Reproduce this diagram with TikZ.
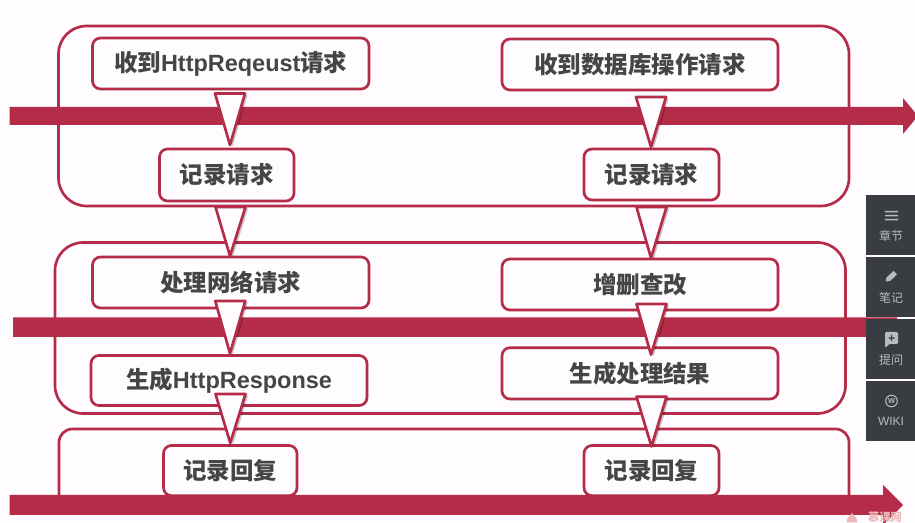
\documentclass[tikz,border=0pt]{standalone}
\usepackage{fontspec}
\setmainfont{Liberation Sans}
\newfontfamily\cjk{Noto Sans CJK SC}
\newfontfamily\latinb{Liberation Sans}
\usetikzlibrary{calc,shadows}
\definecolor{crim}{HTML}{B42C48}
\definecolor{ink}{HTML}{454547}
\definecolor{panel}{HTML}{393D41}
\definecolor{ptext}{HTML}{B8BABC}
\definecolor{paper}{HTML}{FEFCFE}
\definecolor{wm}{HTML}{EDB9B9}
\tikzset{
  x=0.75pt,y=-0.75pt,
  grouppath/.style={draw=crim,line width=2pt},
  flow/.style={fill=crim,draw=none},
  stepbox/.style={draw=crim,line width=2pt,fill=paper,rounded corners=6pt,inner sep=0pt,outer sep=0pt,
    text=ink,font=\cjk\bfseries\fontsize{17.6}{20}\selectfont,
    drop shadow={shadow xshift=0.8pt,shadow yshift=-0.8pt,opacity=0.18,fill=black}},
  tri/.style={draw=crim,line width=2pt,fill=paper,line join=round,
    drop shadow={shadow xshift=2pt,shadow yshift=-1pt,opacity=0.22,fill=black}},
  panelbox/.style={fill=panel,draw=none,inner sep=0pt,outer sep=0pt,minimum width=36.75pt,minimum height=45pt},
  paneltext/.style={text=ptext,font=\cjk\fontsize{9}{11}\selectfont,inner sep=0pt},
  icon/.style={fill=ptext,draw=none},
}
\newcommand{\stepnode}[6]{\node[stepbox,minimum width={(#4-#2)*0.75pt},minimum height={(#5-#3)*0.75pt}] (#1) at ({(#2+#4)/2},{(#3+#5)/2}) {\raisebox{-0.7pt}{#6}};}
\newcommand{\flowarrow}[6]{\fill[flow] (#1,#2) -- (#3,#2) -- (#3,#4) -- (#5,{(#2+#6)/2}) -- (#3,{#2+#6-#4}) -- (#3,#6) -- (#1,#6) -- cycle;}
\newcommand{\tripoint}[6]{\draw[tri] ($(#1.south)+(#2-15,#3)$) -- ($(#1.south)+(#2+15,#3)$) -- ($(#4.north)+(#5,#6)$) -- cycle;}
\newcommand{\lat}[1]{{\latinb\bfseries #1}}
\begin{document}
\begin{tikzpicture}
\useasboundingbox (0,0) rectangle (915,523);
\fill[paper] (0,0) rectangle (915,523);
% groups
\draw[grouppath,rounded corners=21pt] (58.5,26) rectangle (849,206);
\draw[grouppath,rounded corners=21pt] (55,242.5) rectangle (845.5,413.5);
\draw[grouppath,rounded corners=10pt] (59,505) -- (59,429) -- (849,429) -- (849,505);
% flow arrows
\flowarrow{9.5}{107}{903}{98}{918}{125}
\flowarrow{13}{317.5}{897}{317.5}{897}{337}
\flowarrow{9.5}{495}{883}{485}{903}{515}
% steps
\stepnode{recvhttp}{92.5}{38}{369}{89}{收到\lat{HttpReqeust}请求}
\stepnode{logreqa}{159.5}{149}{294}{201}{记录请求}
\stepnode{recvdb}{502}{39}{778}{90}{收到数据库操作请求}
\stepnode{logreqb}{584}{149}{719}{200}{记录请求}
\stepnode{handle}{92.5}{257}{369}{308}{处理网络请求}
\stepnode{genresp}{91}{355.5}{367}{405.5}{生成\lat{HttpResponse}}
\stepnode{logrespa}{163.5}{445.5}{297}{495.7}{记录回复}
\stepnode{crud}{502}{259}{778}{310}{增删查改}
\stepnode{genres}{502}{347.7}{778}{399}{生成处理结果}
\stepnode{logrespb}{584}{445.5}{719}{495.7}{记录回复}
% triangular connectors
\tripoint{recvhttp}{-0.75}{4.5}{logreqa}{3.25}{-4}
\tripoint{logreqa}{3.75}{6}{handle}{-0.75}{-1}
\tripoint{handle}{-0.5}{-7}{genresp}{1}{-2}
\tripoint{genresp}{1.5}{-11.5}{logrespa}{0}{-2.5}
\tripoint{recvdb}{11}{7}{logreqb}{-0.5}{-2}
\tripoint{logreqb}{0}{7}{crud}{11}{-1}
\tripoint{crud}{11.5}{-6}{genres}{11}{7}
\tripoint{genres}{11.5}{-2.3}{logrespb}{0}{1}
% side panel
\node[panelbox] (pa) at (890.5,225) {};
\node[panelbox] (pb) at (890.5,287) {};
\node[panelbox] (pc) at (890.5,349) {};
\node[panelbox] (pd) at (890.5,411) {};
\node[paneltext] (ta) at (891,236) {章节};
\node[paneltext] (tb) at (891,298) {笔记};
\node[paneltext] (tc) at (891,360) {提问};
\node[paneltext,font=\fontsize{9}{11}\selectfont] (td) at (891,421.5) {WIKI};
% icons
\fill[icon] (885,211) rectangle (898,212.3) (885,215) rectangle (898,216.3) (885,219) rectangle (898,220.3);
\fill[icon] (885.5,281.5) -- (886.5,277.5) -- (893.5,271) -- (897,274.5) -- (890,281) -- cycle;
\fill[icon,rounded corners=1pt] (885,332) -- (898,332) -- (898,344) -- (889,344) -- (885,348) -- cycle;
\fill[panel] (888.5,337.4) rectangle (894.5,338.6) (890.9,335) rectangle (892.1,341);
\draw[ptext,line width=0.8pt] (891.5,401) circle[radius=5.8];
\node[text=ptext,inner sep=0pt,font=\latinb\bfseries\fontsize{5.5}{6}\selectfont] (wk) at (891.5,401) {W};
% watermark
\fill[wm] (847,522.5) .. controls (845,518) and (850,517) .. (852,513) .. controls (854,516) and (858,518) .. (857,522.5) -- cycle;
\node[text=wm,inner sep=0pt,font=\cjk\bfseries\fontsize{8.5}{9}\selectfont] (mark) at (885,517.5) {慕课网};
\end{tikzpicture}
\end{document}
